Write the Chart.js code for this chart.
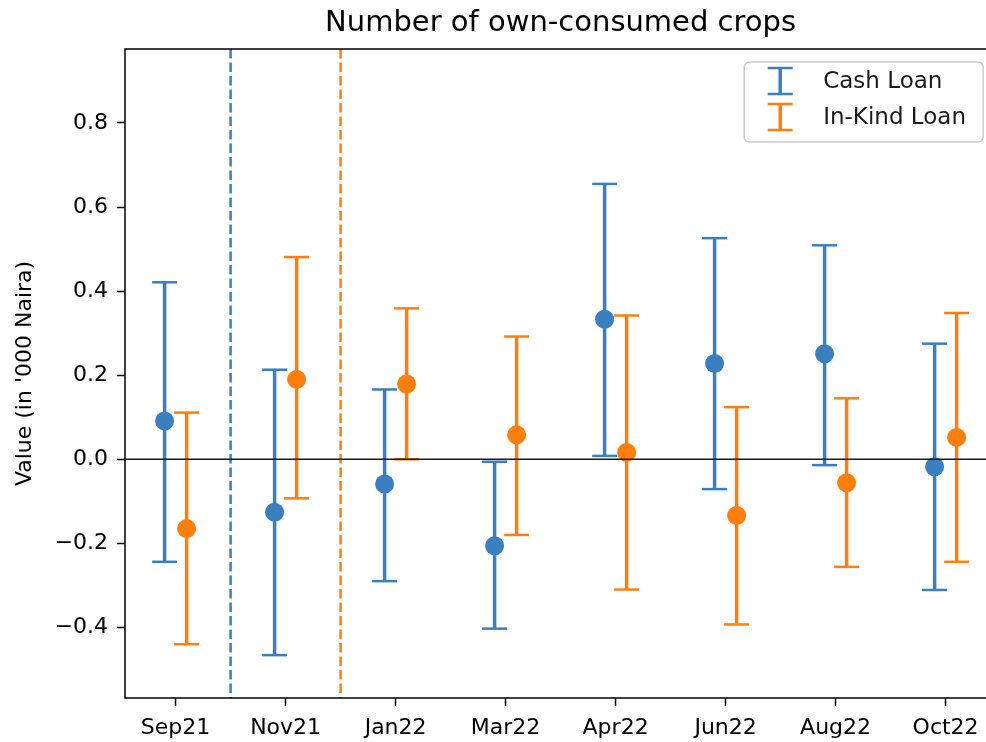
<!DOCTYPE html>
<html>
<head>
<meta charset="utf-8">
<title>Number of own-consumed crops</title>
<script src="https://cdn.jsdelivr.net/npm/chart.js@4.4.1/dist/chart.umd.min.js"></script>
<style>
    html, body { margin: 0; padding: 0; background: #fff; overflow: hidden; }
    #wrap { width: 986px; height: 742px; }
</style>
</head>
<body>
<div id="wrap"><canvas id="cropsChart" width="986" height="742"></canvas></div>
<script>
// Datos
const periodos  = ['Sep21', 'Nov21', 'Jan22', 'Mar22', 'Apr22', 'Jun22', 'Aug22', 'Oct22'];
const cashMedia = [0.091, -0.126, -0.059, -0.206, 0.333, 0.228, 0.251, -0.018];
const cashBajo  = [-0.244, -0.466, -0.290, -0.403, 0.008, -0.071, -0.014, -0.311];
const cashAlto  = [0.421, 0.213, 0.166, -0.006, 0.655, 0.526, 0.509, 0.275];
const kindMedia = [-0.165, 0.190, 0.179, 0.058, 0.016, -0.134, -0.056, 0.052];
const kindBajo  = [-0.440, -0.093, 0.000, -0.180, -0.310, -0.393, -0.256, -0.244];
const kindAlto  = [0.111, 0.481, 0.359, 0.292, 0.342, 0.124, 0.145, 0.348];
const yTicks    = [-0.4, -0.2, 0, 0.2, 0.4, 0.6, 0.8];
const inicioPrestamo = [0.5, 1.5];   // linea discontinua: cash, in-kind

const TITULO  = 'Number of own-consumed crops';
const AZUL    = '#3a7fbf';
const NARANJA = '#ff7f0e';
const X_MIN = -0.46, X_MAX_EJE = 7.46;   // limites del eje original (derecha recortada)

Chart.defaults.font.family = 'DejaVu Sans';
Chart.defaults.color = '#000';

function _puntos(medias, bajos, altos, desplazamiento) {
    return medias.map((m, i) => ({ x: i + desplazamiento, y: m, lo: bajos[i], hi: altos[i] }));
}

function _linea(ctx, x1, y1, x2, y2) {
    ctx.beginPath();
    ctx.moveTo(x1, y1);
    ctx.lineTo(x2, y2);
    ctx.stroke();
}

function _barraError(ctx, px, top, bot, color) {
    ctx.strokeStyle = color;
    ctx.lineWidth = 3.5;
    _linea(ctx, px, top, px, bot);
    ctx.lineWidth = 2.5;
    _linea(ctx, px - 12.5, top, px + 12.5, top);
    _linea(ctx, px - 12.5, bot, px + 12.5, bot);
}

const errorBarPlugin = {
    id: 'errorBars',
    beforeDatasetsDraw(chart) {
        const { ctx, chartArea: a, scales: { x, y } } = chart;
        ctx.save();
        ctx.lineCap = 'butt';

        // lineas verticales de inicio
        [AZUL, NARANJA].forEach((color, k) => {
            const px = x.getPixelForValue(inicioPrestamo[k]);
            ctx.strokeStyle = color;
            ctx.lineWidth = 2.5;
            ctx.setLineDash([9.5, 4]);
            _linea(ctx, px, a.top, px, a.bottom);
        });
        ctx.setLineDash([]);

        chart.data.datasets.forEach(ds => {
            ds.data.forEach(p => {
                _barraError(ctx, x.getPixelForValue(p.x),
                    y.getPixelForValue(p.hi), y.getPixelForValue(p.lo), ds.backgroundColor);
            });
        });
        ctx.restore();
    },
    afterDatasetsDraw(chart) {
        const { ctx, chartArea: a, scales: { x, y } } = chart;
        ctx.save();

        // linea en cero
        const y0 = y.getPixelForValue(0);
        ctx.strokeStyle = '#1a1a1a';
        ctx.lineWidth = 1.7;
        _linea(ctx, a.left, y0, a.right, y0);

        // marco: izquierda, arriba, abajo
        ctx.strokeStyle = '#000';
        ctx.lineWidth = 1.5;
        ctx.beginPath();
        ctx.moveTo(a.right + 2, a.top);
        ctx.lineTo(a.left, a.top);
        ctx.lineTo(a.left, a.bottom);
        ctx.lineTo(a.right + 2, a.bottom);
        ctx.stroke();

        // titulo centrado sobre el eje completo
        ctx.fillStyle = '#000';
        ctx.font = '29px "DejaVu Sans"';
        ctx.textAlign = 'center';
        ctx.textBaseline = 'middle';
        ctx.fillText(TITULO, x.getPixelForValue((X_MIN + X_MAX_EJE) / 2), 23);

        // leyenda
        const w = 239, h = 80;
        const lx = x.getPixelForValue(X_MAX_EJE) - 13 - w, ly = a.top + 13;
        ctx.beginPath();
        ctx.roundRect(lx, ly, w, h, 5);
        ctx.fillStyle = 'rgba(255,255,255,0.8)';
        ctx.fill();
        ctx.strokeStyle = '#cccccc';
        ctx.lineWidth = 1.5;
        ctx.stroke();

        ctx.font = '23px "DejaVu Sans"';
        ctx.textBaseline = 'middle';
        ctx.textAlign = 'left';
        chart.data.datasets.forEach((ds, i) => {
            const cy = ly + 19 + i * 36;
            _barraError(ctx, lx + 36, cy - 13, cy + 13, ds.backgroundColor);
            ctx.fillStyle = '#1a1a1a';
            ctx.fillText(ds.label, lx + 79, cy + 1);
        });
        ctx.restore();
    }
};

new Chart(document.getElementById('cropsChart'), {
    type: 'scatter',
    data: {
        datasets: [
            {
                label: 'Cash Loan',
                data: _puntos(cashMedia, cashBajo, cashAlto, -0.1),
                backgroundColor: AZUL,
                borderColor: AZUL,
                pointRadius: 9.5,
                pointHoverRadius: 9.5,
                borderWidth: 0
            },
            {
                label: 'In-Kind Loan',
                data: _puntos(kindMedia, kindBajo, kindAlto, 0.1),
                backgroundColor: NARANJA,
                borderColor: NARANJA,
                pointRadius: 9.5,
                pointHoverRadius: 9.5,
                borderWidth: 0
            }
        ]
    },
    options: {
        responsive: false,
        animation: false,
        layout: { autoPadding: false, padding: { left: 0, right: 0, top: 49, bottom: 0 } },
        plugins: {
            legend: { display: false },
            tooltip: { enabled: false },
            title: { display: false }
        },
        scales: {
            x: {
                type: 'linear',
                min: X_MIN,
                max: X_MIN + 861 / 110,
                afterBuildTicks: s => { s.ticks = periodos.map((_, i) => ({ value: i })); },
                afterFit: s => {
                    s.height = 44;
                    s.paddingLeft = 0;
                    s.paddingRight = 0;
                },
                grid: { display: true, drawOnChartArea: false, drawTicks: true, tickLength: 8, tickColor: '#000', tickWidth: 1.5 },
                border: { display: false },
                ticks: {
                    font: { size: 22 },
                    color: '#000',
                    padding: 9,
                    maxRotation: 0,
                    autoSkip: false,
                    callback: v => periodos[Math.round(v)] ?? ''
                }
            },
            y: {
                min: -0.568,
                max: 0.976,
                afterBuildTicks: s => { s.ticks = yTicks.map(v => ({ value: v })); },
                afterFit: s => {
                    s.width = 125;
                    s.paddingTop = 0;
                    s.paddingBottom = 0;
                },
                grid: { display: true, drawOnChartArea: false, drawTicks: true, tickLength: 8, tickColor: '#000', tickWidth: 1.5 },
                border: { display: false },
                title: {
                    display: true,
                    text: "Value (in '000 Naira)",
                    font: { size: 22 },
                    color: '#000',
                    padding: { top: 12, bottom: 0 }
                },
                ticks: {
                    font: { size: 22 },
                    color: '#000',
                    padding: 9,
                    autoSkip: false,
                    callback: v => v.toFixed(1).replace('-', '\u2212')
                }
            }
        }
    },
    plugins: [errorBarPlugin]
});
</script>
</body>
</html>
